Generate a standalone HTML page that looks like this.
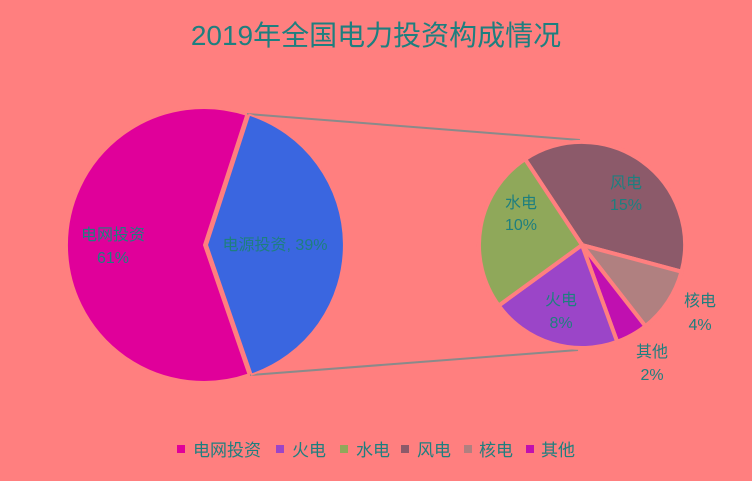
<!DOCTYPE html>
<html><head><meta charset="utf-8"><style>
body{margin:0;background:#FF7F7F;}
svg{display:block;}
text{font-family:"Liberation Sans","Noto Sans CJK SC",sans-serif;}
</style></head><body>
<svg width="752" height="481" viewBox="0 0 752 481">
<rect width="752" height="481" fill="#FF7F7F"/>
<text x="376" y="45" text-anchor="middle" font-size="28" fill="#1E7F7F">2019年全国电力投资构成情况</text>
<line x1="247" y1="114" x2="580" y2="140" stroke="#8a8a8a" stroke-width="2"/>
<line x1="250" y1="375" x2="578" y2="350" stroke="#8a8a8a" stroke-width="2"/>
<path d="M204,245 L248.6,374.5 A137,137 0 1 1 246.3,114.7 Z" fill="#E0009A" stroke="#FF7F7F" stroke-width="2"/>
<path d="M207,245 L249.3,114.7 A137,137 0 0 1 251.6,374.5 Z" fill="#3A66E0" stroke="#FF7F7F" stroke-width="2"/>
<g stroke="#FF7F7F" stroke-width="4">
<path d="M582,245 L525.1,159.1 A103,103 0 0 1 681.5,271.7 Z" fill="#8C5A6A"/>
<path d="M582,245 L681.5,271.7 A103,103 0 0 1 645.4,326.2 Z" fill="#B08080"/>
<path d="M582,245 L645.4,326.2 A103,103 0 0 1 617.2,341.8 Z" fill="#C010B0"/>
<path d="M582,245 L617.2,341.8 A103,103 0 0 1 498.7,305.6 Z" fill="#9B45C8"/>
<path d="M582,245 L498.7,305.6 A103,103 0 0 1 525.1,159.1 Z" fill="#8FA85A"/>
</g>
<g font-size="16" text-anchor="middle" fill="#1E7F7F">
<text x="113" y="240">电网投资</text><text x="113" y="263">61%</text>
<text x="275" y="250">电源投资, 39%</text>
<text x="626" y="188">风电</text><text x="626" y="210">15%</text>
<text x="521" y="208">水电</text><text x="521" y="230">10%</text>
<text x="561" y="305">火电</text><text x="561" y="328">8%</text>
<text x="700" y="306">核电</text><text x="700" y="330">4%</text>
<text x="652" y="357">其他</text><text x="652" y="380">2%</text>
</g>
<g font-size="17" fill="#1E7F7F">
<rect x="177" y="445" width="8" height="8" fill="#E0009A"/><text x="193" y="456">电网投资</text>
<rect x="276" y="445" width="8" height="8" fill="#9B45C8"/><text x="292" y="456">火电</text>
<rect x="340" y="445" width="8" height="8" fill="#8FA85A"/><text x="356" y="456">水电</text>
<rect x="401" y="445" width="8" height="8" fill="#8C5A6A"/><text x="417" y="456">风电</text>
<rect x="464" y="445" width="8" height="8" fill="#B08080"/><text x="479" y="456">核电</text>
<rect x="526" y="445" width="8" height="8" fill="#C010B0"/><text x="541" y="456">其他</text>
</g>
</svg>
</body></html>
